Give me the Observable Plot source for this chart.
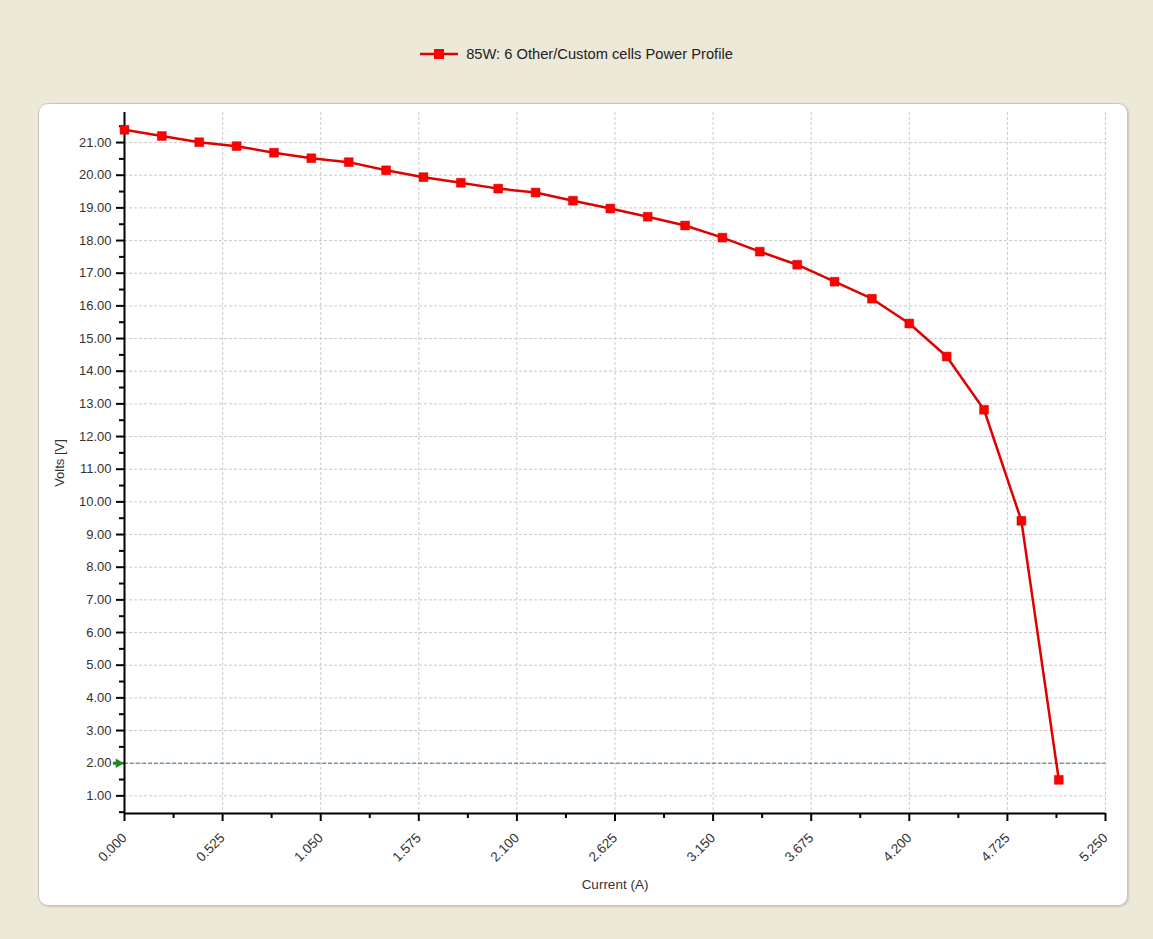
<!DOCTYPE html>
<html><head><meta charset="utf-8">
<script src="https://cdn.jsdelivr.net/npm/d3@7"></script>
<script src="https://cdn.jsdelivr.net/npm/@observablehq/plot@0.6"></script>
<style>
body{margin:0;background:#ECE9D8;font-family:"Liberation Sans",Arial,sans-serif;}
#wrap{position:relative;width:1153px;height:939px;overflow:hidden;}
#panel{position:absolute;left:38px;top:103px;width:1088px;height:801px;background:#fff;border:1px solid #c9c7bd;border-radius:10px;box-shadow:1px 1px 2px rgba(0,0,0,0.15);}
#legend{position:absolute;top:46px;left:0;width:1153px;display:flex;justify-content:center;align-items:center;font-size:14.7px;color:#222;}
#legend svg{margin-right:8px;}
#chart{position:absolute;left:0;top:0;}
</style></head>
<body>
<div id="wrap">
  <div id="panel"></div>
  <div id="legend"><svg width="38" height="16"><line x1="0" x2="38" y1="8" y2="8" stroke="#e00000" stroke-width="2.5"/><rect x="14" y="3" width="10" height="10" fill="#ff0000"/></svg><span id="legtext"></span></div>
  <div id="chart"></div>
</div>
<script>
const seriesName = "85W: 6 Other/Custom cells Power Profile";
const current = [0.0, 0.2, 0.4, 0.6, 0.8, 1.0, 1.2, 1.4, 1.6, 1.8, 2.0, 2.2, 2.4, 2.6, 2.8, 3.0, 3.2, 3.4, 3.6, 3.8, 4.0, 4.2, 4.4, 4.6, 4.8, 5.0];
const volts = [21.39, 21.20, 21.01, 20.89, 20.69, 20.52, 20.40, 20.15, 19.94, 19.77, 19.59, 19.47, 19.22, 18.98, 18.73, 18.46, 18.09, 17.66, 17.26, 16.74, 16.22, 15.46, 14.45, 12.82, 9.42, 1.49];
const threshold = 2.0;
const xTicks = [0.000, 0.525, 1.050, 1.575, 2.100, 2.625, 3.150, 3.675, 4.200, 4.725, 5.250];
const xMinorTicks = [0.2625, 0.7875, 1.3125, 1.8375, 2.3625, 2.8875, 3.4125, 3.9375, 4.4625, 4.9875];
const yTicks = [1, 2, 3, 4, 5, 6, 7, 8, 9, 10, 11, 12, 13, 14, 15, 16, 17, 18, 19, 20, 21];
const yMinorTicks = [0.5, 1.5, 2.5, 3.5, 4.5, 5.5, 6.5, 7.5, 8.5, 9.5, 10.5, 11.5, 12.5, 13.5, 14.5, 15.5, 16.5, 17.5, 18.5, 19.5, 20.5, 21.5];
const xDomain = [0, 5.25];
const yDomain = [0.46, 21.92];

document.getElementById("legtext").textContent = seriesName;
const data = current.map((c, i) => ({current: c, volts: volts[i]}));
const marker = [{current: xDomain[0], volts: threshold}];

const chart = Plot.plot({
  width: 1153, height: 939,
  marginLeft: 124, marginRight: 48, marginTop: 112, marginBottom: 126,
  style: {background: "transparent", fontFamily: "Liberation Sans, Arial, sans-serif", fontSize: "13px", color: "#333", overflow: "visible"},
  x: {domain: xDomain},
  y: {domain: yDomain},
  marks: [
    Plot.gridX(xTicks.slice(1), {stroke: "#cacaca", strokeOpacity: 1, strokeDasharray: "3,2"}),
    Plot.gridY(yTicks, {stroke: "#cacaca", strokeOpacity: 1, strokeDasharray: "3,2"}),
    Plot.ruleY([threshold], {stroke: "#2e8b2e", strokeWidth: 1, strokeDasharray: "4,2"}),
    Plot.axisX(xTicks, {tickSize: 8, tickPadding: 14, tickRotate: -45, tickFormat: d3.format(".3f"), fontSize: 13.5, stroke: "black", strokeWidth: 2, label: "Current (A)", labelAnchor: "center", labelOffset: 75, labelArrow: "none"}),
    Plot.axisX(xMinorTicks, {tickSize: 5, tickFormat: () => "", stroke: "black", strokeWidth: 2, label: null}),
    Plot.axisY(yTicks, {tickSize: 8, tickPadding: 5, tickFormat: d3.format(".2f"), stroke: "black", strokeWidth: 2, label: "Volts [V]", labelAnchor: "center", labelOffset: 70, labelArrow: "none"}),
    Plot.axisY(yMinorTicks, {tickSize: 5, tickFormat: () => "", stroke: "black", strokeWidth: 2, label: null}),
    Plot.ruleX([xDomain[0]], {stroke: "black", strokeWidth: 2}),
    Plot.ruleY([yDomain[0]], {stroke: "black", strokeWidth: 2}),
    Plot.dot(marker, {x: "current", y: "volts", symbol: "square", r: 1.8, fill: "#1f8a1f", dx: -10}),
    Plot.dot(marker, {x: "current", y: "volts", symbol: "triangle", rotate: 90, r: 3.5, fill: "#1f8a1f", dx: -6}),
    Plot.line(data, {x: "current", y: "volts", stroke: "#e00000", strokeWidth: 2.5}),
    Plot.dot(data, {x: "current", y: "volts", symbol: "square", r: 5, fill: "#ff0000", stroke: "#d00000", strokeWidth: 0.5})
  ]
});
document.getElementById("chart").appendChild(chart);
</script>
</body></html>
